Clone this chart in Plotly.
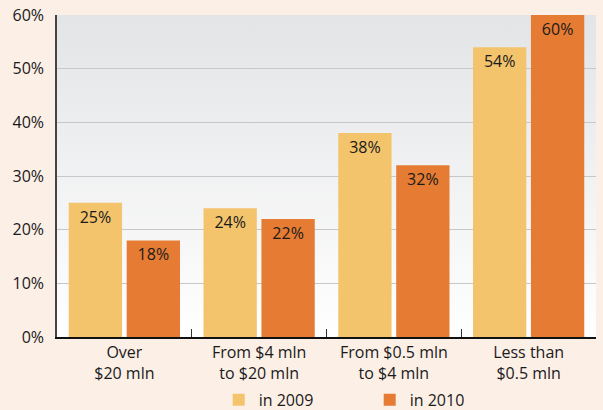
import base64
import plotly.graph_objects as go

categories = ["Over<br>$20 mln", "From $4 mln<br>to $20 mln",
              "From $0.5 mln<br>to $4 mln", "Less than<br>$0.5 mln"]
values_2009 = [25, 24, 38, 54]
values_2010 = [18, 22, 32, 60]
y_ticks = [0, 10, 20, 30, 40, 50, 60]
y_tick_labels = ["0%", "10%", "20%", "30%", "40%", "50%", "60%"]

FONT = "Open Sans, Noto Sans, sans-serif"
PAGE_BG = "#fcefe6"

# vertical grey -> white gradient for the plot area
svg = ('<svg xmlns="http://www.w3.org/2000/svg" width="10" height="100" preserveAspectRatio="none">'
       '<defs><linearGradient id="g" x1="0" y1="0" x2="0" y2="1">'
       '<stop offset="0" stop-color="#e3e4e6"/><stop offset="1" stop-color="#ffffff"/>'
       '</linearGradient></defs><rect width="10" height="100" fill="url(#g)"/></svg>')
bg_src = "data:image/svg+xml;base64," + base64.b64encode(svg.encode()).decode()

fig = go.Figure()
fig.add_trace(go.Bar(
    x=categories, y=values_2009, name="in 2009",
    marker=dict(color="#f3c46c", line=dict(width=0)),
    text=[f"{v}%" for v in values_2009], textposition="inside",
    insidetextanchor="end", textangle=0, constraintext="none",
    textfont=dict(size=16, color="#1a1a1a", family=FONT),
))
fig.add_trace(go.Bar(
    x=categories, y=values_2010, name="in 2010",
    marker=dict(color="#e67c33", line=dict(width=0)),
    text=[f"{v}%" for v in values_2010], textposition="inside",
    insidetextanchor="end", textangle=0, constraintext="none",
    textfont=dict(size=16, color="#1a1a1a", family=FONT),
))

fig.update_layout(
    width=603, height=410,
    margin=dict(l=57, r=7, t=15, b=73),
    paper_bgcolor=PAGE_BG,
    plot_bgcolor="rgba(0,0,0,0)",
    barmode="group", bargap=0.14, bargroupgap=0.08,
    font=dict(family=FONT, size=16, color="#1a1a1a"),
    images=[dict(source=bg_src, xref="paper", yref="paper", x=0, y=1,
                 sizex=1, sizey=1, sizing="stretch", layer="below")],
    xaxis=dict(
        tickson="boundaries", ticks="inside", ticklen=8, tickcolor="#333333",
        showline=True, linecolor="#111111", linewidth=2,
        showgrid=False, tickfont=dict(size=16, color="#1a1a1a"),
        automargin=False,
    ),
    yaxis=dict(
        range=[0, 60], tickvals=y_ticks, ticktext=y_tick_labels,
        showline=True, linecolor="#444444", linewidth=1.5,
        showgrid=True, gridcolor="#c6c7c9", gridwidth=1,
        zeroline=False, ticks="", ticklabelstandoff=8,
        tickfont=dict(size=16, color="#1a1a1a"), automargin=False,
    ),
    legend=dict(
        orientation="h", x=0.30, xanchor="left",
        yref="container", y=0.025, yanchor="middle",
        entrywidth=106, font=dict(size=16, color="#1a1a1a"),
        bgcolor="rgba(0,0,0,0)", itemsizing="constant",
    ),
    showlegend=True,
)

# drop the browser's default page margin so the figure sits at the window corner
fig.write_html("out.html", config={"displayModeBar": False},
               post_script="document.body.style.margin='0';")
